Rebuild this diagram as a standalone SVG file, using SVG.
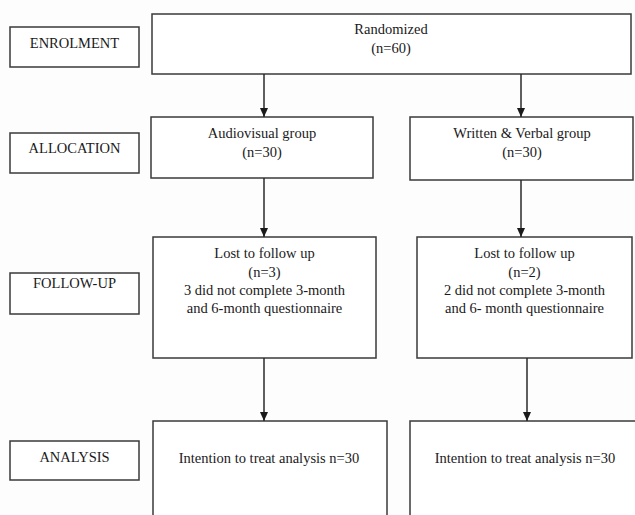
<svg xmlns="http://www.w3.org/2000/svg" width="635" height="515" viewBox="0 0 635 515">
<style>
.box{fill:#fff;stroke:#3a3a3a;stroke-width:1.5}
.t{font-family:'Liberation Serif',Tinos,'DejaVu Serif',serif;font-size:14.5px;fill:#1a1a1a;text-anchor:middle}
.c{stroke:#2a2a2a;stroke-width:1.5;fill:none;marker-end:url(#ah)}
</style>
<defs>
<marker id="ah" markerUnits="userSpaceOnUse" markerWidth="10" markerHeight="10" refX="9" refY="5" orient="auto" viewBox="0 0 10 10">
<path d="M0,1 L9,5 L0,9 Z" fill="#1a1a1a"/>
</marker>
</defs>
<rect width="635" height="515" fill="#fdfdfd"/>
<g id="enrolment-label"><rect class="box" x="10" y="27" width="129" height="40"/><text class="t" x="74.5" y="48">ENROLMENT</text></g>
<g id="allocation-label"><rect class="box" x="10" y="133" width="129" height="40"/><text class="t" x="74.5" y="153">ALLOCATION</text></g>
<g id="followup-label"><rect class="box" x="10" y="273" width="129" height="41"/><text class="t" x="74.5" y="288">FOLLOW-UP</text></g>
<g id="analysis-label"><rect class="box" x="10" y="441" width="129" height="39"/><text class="t" x="74.5" y="462">ANALYSIS</text></g>
<g id="randomized"><rect class="box" x="152" y="14" width="479" height="60"/><text class="t" x="391" y="34">Randomized</text><text class="t" x="391" y="53">(n=60)</text></g>
<g id="audiovisual"><rect class="box" x="151" y="117" width="222" height="61"/><text class="t" x="262" y="138">Audiovisual group</text><text class="t" x="262" y="157">(n=30)</text></g>
<g id="written"><rect class="box" x="410" y="117" width="223" height="63"/><text class="t" x="522" y="138">Written &amp; Verbal group</text><text class="t" x="522" y="157">(n=30)</text></g>
<g id="lost-left"><rect class="box" x="153" y="237" width="223" height="121"/><text class="t" x="264.5" y="258">Lost to follow up</text><text class="t" x="264.5" y="277">(n=3)</text><text class="t" x="264.5" y="295">3 did not complete 3-month</text><text class="t" x="264.5" y="313">and 6-month questionnaire</text></g>
<g id="lost-right"><rect class="box" x="417" y="237" width="215" height="121"/><text class="t" x="524.5" y="258">Lost to follow up</text><text class="t" x="524.5" y="277">(n=2)</text><text class="t" x="524.5" y="295">2 did not complete 3-month</text><text class="t" x="524.5" y="313">and 6- month questionnaire</text></g>
<g id="analysis-left"><rect class="box" x="153" y="421" width="234" height="110"/><text class="t" x="269" y="463">Intention to treat analysis n=30</text></g>
<g id="analysis-right"><rect class="box" x="410" y="421" width="240" height="110"/><text class="t" x="525" y="463">Intention to treat analysis n=30</text></g>
<g id="connectors">
<line class="c" x1="264" y1="74" x2="264" y2="117"/>
<line class="c" x1="521" y1="74" x2="521" y2="117"/>
<line class="c" x1="264" y1="178" x2="264" y2="237"/>
<line class="c" x1="521" y1="180" x2="521" y2="237"/>
<line class="c" x1="264" y1="358" x2="264" y2="421"/>
<line class="c" x1="527" y1="358" x2="527" y2="421"/>
</g>
</svg>
